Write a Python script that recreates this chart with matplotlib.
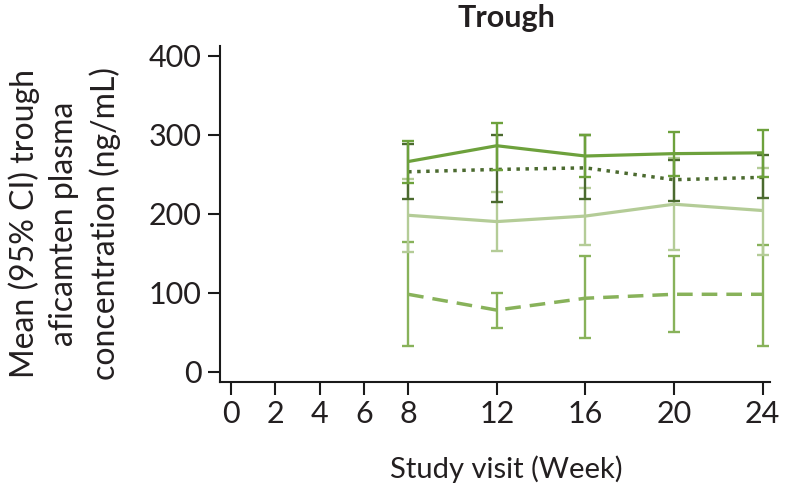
import matplotlib
matplotlib.use("Agg")
import matplotlib.pyplot as plt
import numpy as np

plt.rcParams['font.family'] = ['Lato', 'DejaVu Sans']

weeks = [8, 12, 16, 20, 24]
xticks = [0, 2, 4, 6, 8, 12, 16, 20, 24]
yticks = [0, 100, 200, 300, 400]

# series: mean, lower CI, upper CI
solid_mean = [266, 286, 273, 276, 277]
solid_lo = [239, 255, 247, 248, 246]
solid_hi = [292, 315, 299, 303, 306]

dotted_mean = [253, 256, 258, 243, 246]
dotted_lo = [218, 215, 218, 216, 220]
dotted_hi = [288, 299, 299, 268, 274]

light_mean = [198, 190, 197, 212, 204]
light_lo = [152, 153, 161, 154, 148]
light_hi = [244, 227, 233, 270, 258]

dashed_mean = [98, 78, 93, 98, 98]
dashed_lo = [33, 55, 43, 50, 33]
dashed_hi = [164, 100, 146, 146, 160]

c_solid = '#6da13c'
c_dotted = '#4b6a2f'
c_light = '#b4cc97'
c_dashed = '#88b25a'
txt = '#231f20'

fig = plt.figure(figsize=(7.88, 4.86), dpi=100)
ax = fig.add_axes([0.279, 0.214, 0.698, 0.691])

def draw(mean, lo, hi, color, ls, lw, z):
    mean = np.array(mean); lo = np.array(lo); hi = np.array(hi)
    yerr = np.vstack([mean - lo, hi - mean])
    ax.errorbar(weeks, mean, yerr=yerr, color=color, ls='none', elinewidth=1.7,
                capsize=4.3, capthick=1.7, zorder=z)
    ax.plot(weeks, mean, color=color, lw=lw, ls=ls, zorder=z, dash_capstyle='butt',
            solid_capstyle='butt')

draw(dashed_mean, dashed_lo, dashed_hi, c_dashed, (0, (4.5, 2.6)), 2.5, 2)
draw(light_mean, light_lo, light_hi, c_light, '-', 2.3, 3)
draw(dotted_mean, dotted_lo, dotted_hi, c_dotted, (0, (1, 1.6)), 2.5, 4)
draw(solid_mean, solid_lo, solid_hi, c_solid, '-', 2.3, 5)

ax.set_xlim(-0.5, 24.33)
ax.set_ylim(-13, 412)
ax.set_xticks(xticks)
ax.set_xticklabels([str(t) for t in xticks])
ax.set_yticks(yticks)
for s in ['top', 'right']:
    ax.spines[s].set_visible(False)
for s in ['left', 'bottom']:
    ax.spines[s].set_linewidth(1.5)
    ax.spines[s].set_color('#1a1a1a')
ax.tick_params(axis='both', direction='out', length=9, width=1.5, color='#1a1a1a',
               labelsize=22, labelcolor=txt, pad=4)

fig.text(0.643, 0.017, 'Study visit (Week)', ha='center', va='baseline',
         fontsize=21, color=txt)
fig.text(0.082, 0.54, 'Mean (95% CI) trough\naficamten plasma\nconcentration (ng/mL)',
         rotation=90, ha='center', va='center', fontsize=23, color=txt,
         linespacing=1.38)
fig.text(0.643, 0.944, 'Trough', ha='center', va='baseline', fontsize=22,
         fontweight='bold', color=txt)

fig.savefig('out.png', dpi=100)
